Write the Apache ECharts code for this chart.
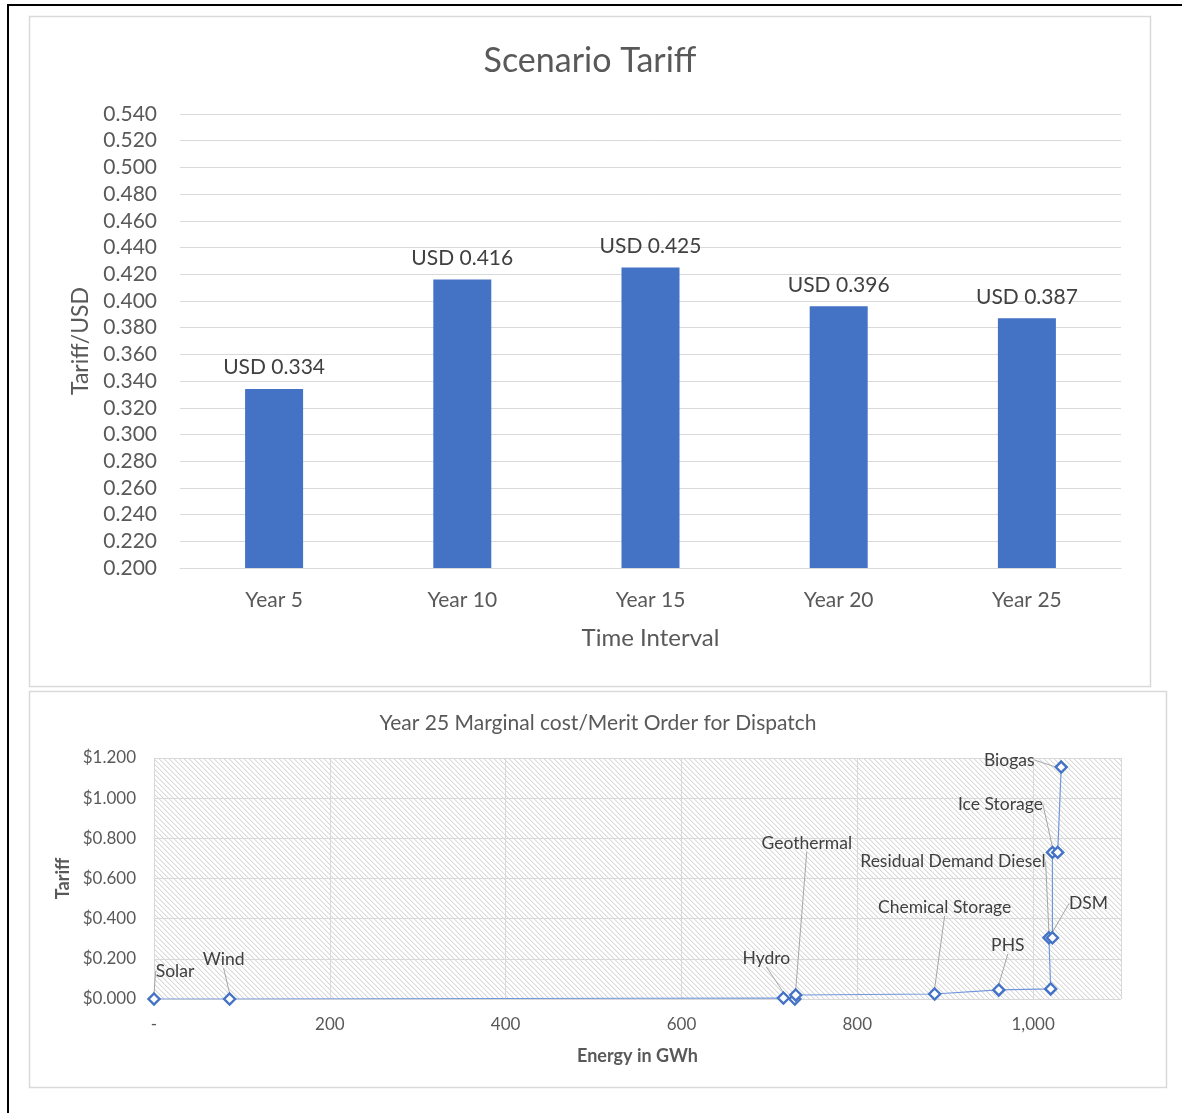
<!DOCTYPE html>
<html>
<head>
<meta charset="utf-8">
<title>Scenario Tariff</title>
<script src="https://cdn.jsdelivr.net/npm/echarts@6/dist/echarts.min.js"></script>
<style>
  html, body { margin: 0; padding: 0; background: #ffffff; }
  #chart { width: 1182px; height: 1113px; }
</style>
</head>
<body>
<div id="chart"></div>
<script>
// Tariff per scenario year
const categories = ['Year 5', 'Year 10', 'Year 15', 'Year 20', 'Year 25'];
const tariffs = [0.334, 0.416, 0.425, 0.396, 0.387];

// Year 25 merit order: cumulative energy (GWh) vs marginal tariff (USD)
const dispatchNames = ['Solar', 'Wind', 'Hydro', '', 'Geothermal', 'Chemical Storage', 'PHS', '',
  'Residual Demand Diesel', 'DSM', 'Ice Storage', '', 'Biogas'];
const dispatchEnergy = [0, 86, 716, 729, 730, 888, 961, 1020, 1018, 1022, 1022, 1028, 1032];
const dispatchTariff = [0, 0, 0.005, 0, 0.02, 0.025, 0.045, 0.05, 0.305, 0.305, 0.73, 0.73, 1.155];

const FONT = 'Lato, "Open Sans", sans-serif';
const TEXT = '#595959';
const GRID = '#d9d9d9';
const BLUE = '#4472C4';

// Callout offsets for the merit-order labels (label centre relative to its point)
const calloutOffset = {
  'Solar': [21, -28],
  'Wind': [-6, -40],
  'Hydro': [-17, -40],
  'Geothermal': [11, -152],
  'Chemical Storage': [10, -87],
  'PHS': [9, -45],
  'Residual Demand Diesel': [-96, -76],
  'DSM': [36, -34],
  'Ice Storage': [-52, -48],
  'Biogas': [-52, -7]
};

// Light downward-diagonal hatch for the merit-order plot area
function hatchPattern() {
  const c = document.createElement('canvas');
  c.width = 5; c.height = 5;
  const g = c.getContext('2d');
  g.fillStyle = '#ffffff';
  g.fillRect(0, 0, 5, 5);
  for (let i = 0; i < 5; i++) {
    g.fillStyle = '#dadada';
    g.fillRect(i, i, 1, 1);
    g.fillStyle = '#efefef';
    g.fillRect((i + 1) % 5, i, 1, 1);
  }
  return { image: c, repeat: 'repeat' };
}

const meritPoints = dispatchNames.map((n, i) => ({
  name: n,
  value: [dispatchEnergy[i], dispatchTariff[i]],
  label: { show: n !== '' },
  labelLine: { show: n !== '' }
}));

const chart = echarts.init(document.getElementById('chart'), null, { renderer: 'canvas' });

chart.setOption({
  animation: false,
  backgroundColor: '#ffffff',
  graphic: [
    { type: 'line', shape: { x1: 7, y1: 5, x2: 1182, y2: 5 }, style: { stroke: '#000', lineWidth: 2 } },
    { type: 'line', shape: { x1: 8, y1: 4, x2: 8, y2: 1113 }, style: { stroke: '#000', lineWidth: 2 } },
    { type: 'rect', shape: { x: 29.5, y: 16.5, width: 1121, height: 670 }, style: { fill: 'none', stroke: GRID, lineWidth: 1.5 } },
    { type: 'rect', shape: { x: 29.5, y: 691.5, width: 1137, height: 396 }, style: { fill: 'none', stroke: GRID, lineWidth: 1.5 } }
  ],
  title: [
    {
      text: 'Scenario Tariff', left: 585, top: 39, textAlign: 'center',
      textStyle: { fontFamily: FONT, fontSize: 34, fontWeight: 'normal', color: TEXT }
    },
    {
      text: 'Year 25 Marginal cost/Merit Order for Dispatch', left: 593, top: 708, textAlign: 'center',
      textStyle: { fontFamily: FONT, fontSize: 21, fontWeight: 'normal', color: TEXT }
    }
  ],
  grid: [
    { left: 180, top: 114, width: 941, height: 454 },
    { left: 154, top: 758, width: 967, height: 241, show: true, backgroundColor: hatchPattern(), borderWidth: 0 }
  ],
  xAxis: [
    {
      gridIndex: 0, type: 'category', data: categories,
      axisTick: { show: false },
      axisLine: { lineStyle: { color: GRID, width: 1 } },
      axisLabel: { fontFamily: FONT, fontSize: 21, color: TEXT, margin: 22 },
      name: 'Time Interval', nameLocation: 'middle', nameGap: 58,
      nameTextStyle: { fontFamily: FONT, fontSize: 24, color: TEXT }
    },
    {
      gridIndex: 1, type: 'value', min: 0, max: 1100, interval: 200,
      axisTick: { show: false },
      axisLine: { show: false },
      splitLine: { show: true, lineStyle: { color: GRID, width: 1 } },
      axisLabel: {
        fontFamily: FONT, fontSize: 17, color: TEXT, margin: 17,
        formatter: v => v === 0 ? '-' : (v > 1050 ? '' : v.toLocaleString('en-US'))
      },
      name: 'Energy in GWh', nameLocation: 'middle', nameGap: 48,
      nameTextStyle: { fontFamily: FONT, fontSize: 18, fontWeight: 'bold', color: TEXT }
    }
  ],
  yAxis: [
    {
      gridIndex: 0, type: 'value', min: 0.2, max: 0.54, interval: 0.02,
      axisLine: { show: false }, axisTick: { show: false },
      splitLine: { lineStyle: { color: GRID, width: 1 } },
      axisLabel: { fontFamily: FONT, fontSize: 21, color: TEXT, margin: 23, formatter: v => v.toFixed(3) },
      name: 'Tariff/USD', nameLocation: 'middle', nameGap: 88, nameRotate: 90,
      nameTextStyle: { fontFamily: FONT, fontSize: 23, color: TEXT }
    },
    {
      gridIndex: 1, type: 'value', min: 0, max: 1.2, interval: 0.2,
      axisLine: { show: false }, axisTick: { show: false },
      splitLine: { lineStyle: { color: GRID, width: 1 } },
      axisLabel: { fontFamily: FONT, fontSize: 17, color: TEXT, margin: 18, formatter: v => '$' + v.toFixed(3) },
      name: 'Tariff', nameLocation: 'middle', nameGap: 80, nameRotate: 90,
      nameTextStyle: { fontFamily: FONT, fontSize: 18, fontWeight: 'bold', color: TEXT }
    }
  ],
  series: [
    {
      type: 'bar', xAxisIndex: 0, yAxisIndex: 0, data: tariffs, barWidth: 58,
      itemStyle: { color: BLUE },
      label: {
        show: true, position: 'top', distance: 11,
        fontFamily: FONT, fontSize: 21, color: '#404040',
        formatter: p => 'USD ' + p.value.toFixed(3)
      }
    },
    {
      type: 'line', xAxisIndex: 1, yAxisIndex: 1,
      data: dispatchEnergy.map((x, i) => [x, dispatchTariff[i]]),
      showSymbol: false, symbol: 'none',
      lineStyle: { color: '#7096dc', width: 1.2 }, z: 3
    },
    {
      type: 'scatter', xAxisIndex: 1, yAxisIndex: 1, data: meritPoints,
      symbol: 'diamond', symbolSize: 11,
      itemStyle: { color: '#ffffff', borderColor: BLUE, borderWidth: 2.4, opacity: 1 },
      label: {
        position: 'inside', formatter: '{b}',
        fontFamily: FONT, fontSize: 17.5, color: '#404040'
      },
      labelLine: { lineStyle: { color: '#a6a6a6', width: 1 } },
      labelLayout: p => {
        const off = calloutOffset[dispatchNames[p.dataIndex]] || [0, 0];
        return { dx: off[0], dy: off[1] };
      },
      z: 4
    }
  ]
});
</script>
</body>
</html>
